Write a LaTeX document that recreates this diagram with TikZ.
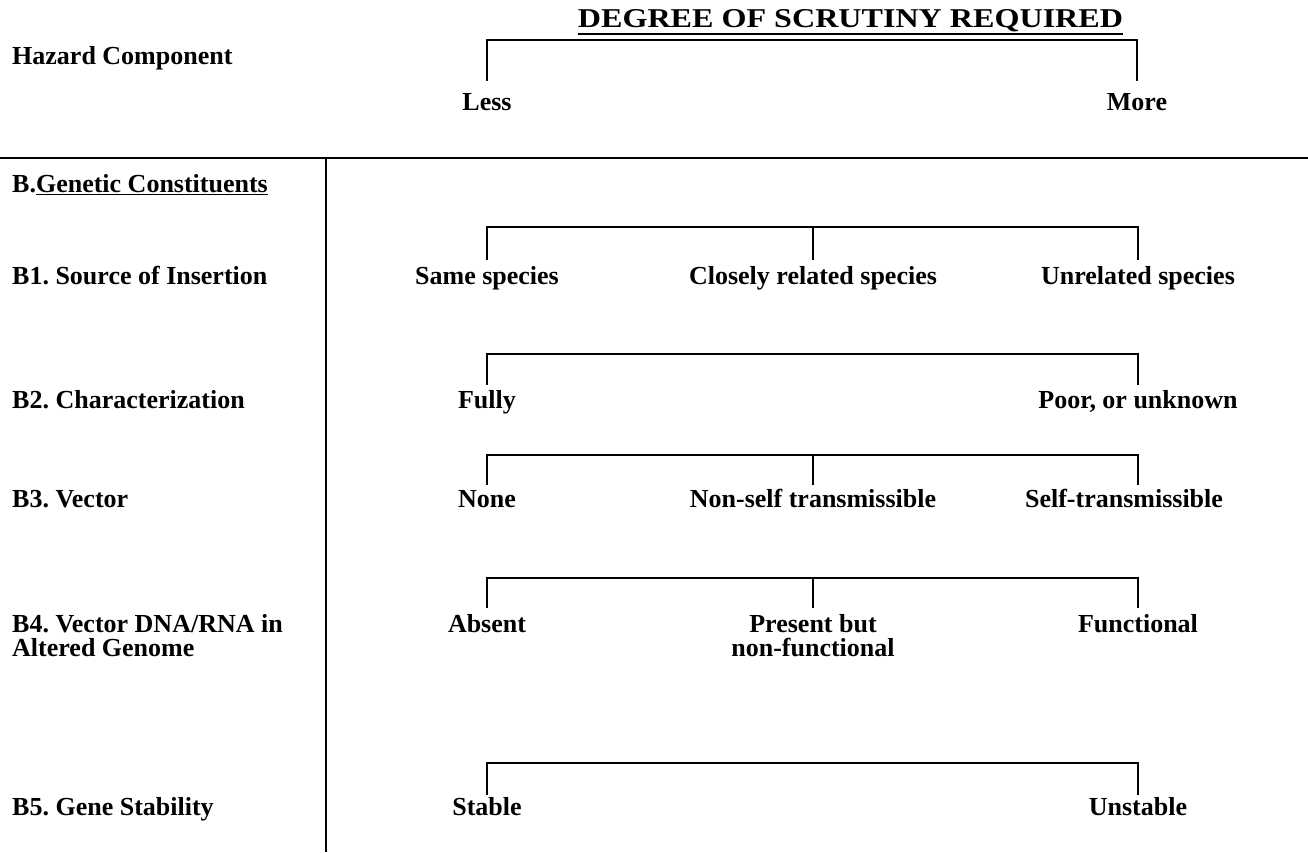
\documentclass[tikz,border=0pt]{standalone}
\usepackage{fontspec}
\setmainfont{Liberation Serif}
\begin{document}
\frenchspacing
\begin{tikzpicture}[x=1pt,y=-1pt,
  lbl/.style={font=\fontsize{26}{29}\selectfont\bfseries\frenchspacing, inner sep=0pt, anchor=base},
  hz/.style={lbl, anchor=base west},
  br/.style={line width=2pt, line cap=rect},
  rule/.style={line width=2pt}]
\useasboundingbox (0,0) rectangle (1308,852);

% title
\node[inner sep=0pt, anchor=base] (title) at (850.5,27)
  {\resizebox{545pt}{18pt}{\bfseries DEGREE OF SCRUTINY REQUIRED}};
\draw[line width=2pt] ([yshift=-7pt]title.base west) -- ([yshift=-7pt]title.base east);

\node[hz] (hazard) at (12,64) {Hazard Component};

% top bracket
\coordinate (t1) at (487,40);
\coordinate (t2) at (1137,40);
\node[lbl] (less) at (487,110) {Less};
\node[lbl] (more) at (1137,110) {More};
\draw[br] (t1 |- 0,80) -- (t1) -- (t2) -- (t2 |- 0,80);

% table rules
\coordinate (hl) at (0,158);
\coordinate (hr) at (1308,158);
\coordinate (vt) at (326,158);
\coordinate (vb) at (326,852);
\draw[rule] (hl) -- (hr);
\draw[rule] (vt) -- (vb);

\node[hz] (bgen) at (12,192) {B.\underline{Genetic Constituents}};

% B1
\node[hz] (b1) at (12,284) {B1. Source of Insertion};
\node[lbl] (b1a) at (487,284) {Same species};
\node[lbl] (b1b) at (813,284) {Closely related species};
\node[lbl] (b1c) at (1138,284) {Unrelated species};
\coordinate (b1l) at (487,227);
\coordinate (b1m) at (813,227);
\coordinate (b1r) at (1138,227);
\draw[br] (b1l |- 0,259) -- (b1l) -- (b1r) -- (b1r |- 0,259);
\draw[br] (b1m) -- (b1m |- 0,259);

% B2
\node[hz] (b2) at (12,408) {B2. Characterization};
\node[lbl] (b2a) at (487,408) {Fully};
\node[lbl] (b2c) at (1138,408) {Poor, or unknown};
\coordinate (b2l) at (487,354);
\coordinate (b2r) at (1138,354);
\draw[br] (b2l |- 0,384) -- (b2l) -- (b2r) -- (b2r |- 0,384);

% B3
\node[hz] (b3) at (12,507) {B3. Vector};
\node[lbl] (b3a) at (487,507) {None};
\node[lbl] (b3b) at (813,507) {Non-self transmissible};
\node[lbl] (b3c) at (1124,507) {Self-transmissible};
\coordinate (b3l) at (487,455);
\coordinate (b3m) at (813,455);
\coordinate (b3r) at (1138,455);
\draw[br] (b3l |- 0,484) -- (b3l) -- (b3r) -- (b3r |- 0,484);
\draw[br] (b3m) -- (b3m |- 0,484);

% B4
\node[hz] (b4) at (12,632) {B4. Vector DNA/RNA in};
\node[hz] (b4x) at (12,656) {Altered Genome};
\node[lbl] (b4a) at (487,632) {Absent};
\node[lbl] (b4b) at (813,632) {Present but};
\node[lbl] (b4bb) at (813,656) {non-functional};
\node[lbl] (b4c) at (1138,632) {Functional};
\coordinate (b4l) at (487,578);
\coordinate (b4m) at (813,578);
\coordinate (b4r) at (1138,578);
\draw[br] (b4l |- 0,607) -- (b4l) -- (b4r) -- (b4r |- 0,607);
\draw[br] (b4m) -- (b4m |- 0,607);

% B5
\node[hz] (b5) at (12,815) {B5. Gene Stability};
\node[lbl] (b5a) at (487,815) {Stable};
\node[lbl] (b5c) at (1138,815) {Unstable};
\coordinate (b5l) at (487,763);
\coordinate (b5r) at (1138,763);
\draw[br] (b5l |- 0,794) -- (b5l) -- (b5r) -- (b5r |- 0,794);
\end{tikzpicture}
\end{document}
